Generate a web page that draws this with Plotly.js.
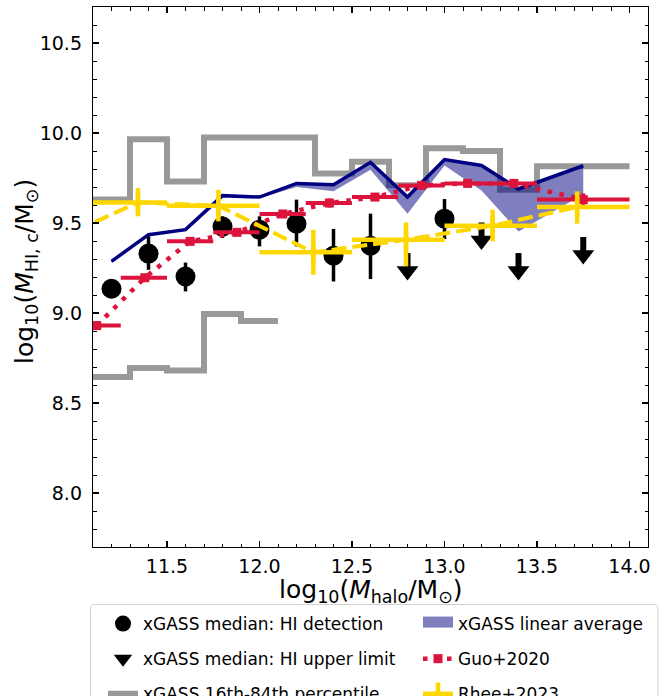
<!DOCTYPE html>
<html>
<head>
<meta charset="utf-8">
<script src="https://cdn.plot.ly/plotly-3.0.1.min.js"></script>
<style>html,body{margin:0;padding:0;background:#fff}</style>
</head>
<body>
<div id="chart" style="width:671px;height:696px"></div>
<script>
// xGASS medians with an HI detection: value and lower/upper uncertainty bounds
const detX  = [11.2, 11.4, 11.6, 11.8, 12.0, 12.2, 12.4, 12.6, 13.0];
const detY  = [9.135, 9.33, 9.203, 9.48, 9.463, 9.496, 9.318, 9.374, 9.524];
const detLo = [9.10, 9.24, 9.12, 9.417, 9.37, 9.37, 9.175, 9.189, 9.411];
const detHi = [9.17, 9.426, 9.28, 9.537, 9.537, 9.63, 9.467, 9.552, 9.633];

// xGASS medians that are HI upper limits
const limX = [12.8, 13.2, 13.4, 13.75];
const limY = [9.333, 9.503, 9.333, 9.422];

// 16th / 84th percentile stairs: bin edges and one value per bin
const p84Edges = [11.1, 11.3, 11.5, 11.7, 11.9, 12.1, 12.3, 12.5, 12.7, 12.9, 13.1, 13.3, 13.5, 14.0];
const p84Vals  = [9.63, 9.965, 9.73, 9.975, 9.975, 9.975, 9.775, 9.84, 9.71, 9.915, 9.90, 9.685, 9.815];
const p16Edges = [11.1, 11.3, 11.5, 11.7, 11.9, 12.1];
const p16Vals  = [8.645, 8.695, 8.68, 8.995, 8.955];

// xGASS linear average: band between lower and upper curves
const avgX  = [11.2, 11.4, 11.6, 11.8, 12.0, 12.2, 12.4, 12.6, 12.8, 13.0, 13.2, 13.4, 13.75];
const avgHi = [9.287, 9.435, 9.463, 9.652, 9.644, 9.72, 9.713, 9.837, 9.644, 9.852, 9.82, 9.689, 9.818];
const avgLo = [9.28, 9.43, 9.455, 9.645, 9.638, 9.70, 9.676, 9.796, 9.552, 9.82, 9.68, 9.453, 9.66];

// Guo+2020: bin centres, values, halo-mass bin edges
const guoX  = [11.12, 11.38, 11.625, 11.878, 12.126, 12.378, 12.624, 12.876, 13.125, 13.375, 13.75];
const guoY  = [8.93, 9.196, 9.398, 9.448, 9.55, 9.611, 9.644, 9.709, 9.72, 9.72, 9.63];
const guoLo = [11.0, 11.25, 11.5, 11.75, 12.0, 12.25, 12.5, 12.75, 13.0, 13.25, 13.5];
const guoHi = [11.25, 11.5, 11.75, 12.0, 12.25, 12.5, 12.75, 13.0, 13.25, 13.5, 14.0];
const guoYErr = [0.02, 0.02, 0.02, 0.02, 0.02, 0.025, 0.02, 0.02, 0.02, 0.02, 0.035];

// Rhee+2023: bin centres, values, bin edges and vertical uncertainty bounds
const rheeX   = [10.8, 11.343, 11.778, 12.291, 12.792, 13.26, 13.717];
const rheeY   = [9.36, 9.614, 9.596, 9.337, 9.407, 9.485, 9.589];
const rheeLo  = [10.5, 11.0, 11.5, 12.0, 12.5, 13.0, 13.5];
const rheeHi  = [11.0, 11.5, 12.0, 12.5, 13.0, 13.5, 14.0];
const rheeYLo = [9.26, 9.537, 9.509, 9.213, 9.259, 9.398, 9.496];
const rheeYHi = [9.46, 9.694, 9.685, 9.463, 9.503, 9.574, 9.676];

const FONT = 'DejaVu Sans, Verdana, sans-serif';
const W = 671, H = 696;
const M = {l: 93, r: 23, t: 7, b: 149, autoexpand: false};
const PW = W - M.l - M.r, PH = H - M.t - M.b;

// pixel position -> paper fraction
const PX = p => (p - M.l) / PW;
const PY = p => (H - M.b - p) / PH;

// stairs drawn with an 'hv' line: repeat the last value at the closing edge
const stairY = v => v.concat([v[v.length - 1]]);
const minus = (a, b) => a.map((v, i) => v - b[i]);

// arrow shaft length (data units) above the arrowhead marker
const ARROW = 0.1;

const BAND = '#7f7fbf';   // navy at 50% over white, for the legend patch

const traces = [
  {x: p84Edges, y: stairY(p84Vals), mode: 'lines', line: {color: '#999999', width: 6, shape: 'hv'},
   name: 'xGASS 16th-84th percentile', legend: 'legend', legendgroup: 'pct', legendrank: 3, hoverinfo: 'skip'},
  {x: p16Edges, y: stairY(p16Vals), mode: 'lines', line: {color: '#999999', width: 6, shape: 'hv'},
   showlegend: false, legendgroup: 'pct', hoverinfo: 'skip'},
  {x: avgX, y: avgLo, mode: 'lines', line: {width: 0, color: 'rgba(0,0,0,0)'}, showlegend: false, hoverinfo: 'skip'},
  {x: avgX, y: avgHi, mode: 'none', fill: 'tonexty', fillcolor: 'rgba(0,0,128,0.5)',
   showlegend: false, legendgroup: 'avg', hoverinfo: 'skip'},
  {x: avgX, y: avgHi, mode: 'lines', line: {color: '#000080', width: 3.5}, showlegend: false,
   legendgroup: 'avg', hoverinfo: 'skip'},
  // legend patch for the band
  {x: [null], y: [null], mode: 'lines', line: {color: BAND, width: 10}, fill: 'toself', fillcolor: BAND,
   name: 'xGASS linear average', legend: 'legend2', legendgroup: 'avg', legendrank: 1},
  {x: detX, y: detY, mode: 'markers', marker: {symbol: 'circle', size: 20, color: '#000000'},
   error_y: {type: 'data', symmetric: false, array: minus(detHi, detY), arrayminus: minus(detY, detLo),
             thickness: 3.5, width: 0, color: '#000000'},
   name: 'xGASS median: HI detection', legend: 'legend', legendgroup: 'det', legendrank: 1},
  {x: limX, y: limY.map(v => v - ARROW), mode: 'markers',
   marker: {symbol: 'triangle-down', size: 19, color: '#000000', line: {width: 0}},
   error_y: {type: 'data', symmetric: false, array: limX.map(() => ARROW), arrayminus: limX.map(() => 0),
             thickness: 6, width: 0, color: '#000000'},
   name: 'xGASS median: HI upper limit', legend: 'legend', legendgroup: 'lim', legendrank: 2},
  {x: guoX, y: guoY, mode: 'lines+markers',
   line: {color: '#dc143c', width: 4.5, dash: '4.5px,7.5px'},
   marker: {symbol: 'square', size: 9, color: '#dc143c'},
   error_x: {type: 'data', symmetric: false, array: minus(guoHi, guoX), arrayminus: minus(guoX, guoLo),
             thickness: 4, width: 0, color: '#dc143c'},
   error_y: {type: 'data', array: guoYErr, thickness: 4, width: 0, color: '#dc143c'},
   name: 'Guo+2020', legend: 'legend2', legendgroup: 'guo', legendrank: 2},
  {x: rheeX, y: rheeY, mode: 'lines+markers',
   line: {color: '#ffd700', width: 4, dash: '15px,6px'},
   marker: {symbol: 'line-ns-open', size: 14, color: '#ffd700', line: {color: '#ffd700', width: 4.5}},
   error_x: {type: 'data', symmetric: false, array: minus(rheeHi, rheeX), arrayminus: minus(rheeX, rheeLo),
             thickness: 4.5, width: 0, color: '#ffd700'},
   error_y: {type: 'data', symmetric: false, array: minus(rheeYHi, rheeY), arrayminus: minus(rheeY, rheeYLo),
             thickness: 4.5, width: 0, color: '#ffd700'},
   showlegend: false, legendgroup: 'rhee'},
  // legend key for Rhee+2023: solid bar with a vertical tick, as an errorbar glyph
  {x: [null], y: [null], mode: 'lines+markers', line: {color: '#ffd700', width: 4.5},
   marker: {symbol: 'line-ns-open', size: 16, color: '#ffd700', line: {color: '#ffd700', width: 4.5}},
   name: 'Rhee+2023', legend: 'legend2', legendgroup: 'rhee', legendrank: 3}
];

// rounded frame around both legend columns, given in pixels and mapped to paper units
function roundBox(x0, y0, x1, y1, r) {
  const X = p => PX(p).toFixed(5);
  const Y = p => PY(p).toFixed(5);
  return `M${X(x0 + r)},${Y(y0)} L${X(x1 - r)},${Y(y0)} Q${X(x1)},${Y(y0)} ${X(x1)},${Y(y0 + r)} ` +
         `L${X(x1)},${Y(y1 - r)} Q${X(x1)},${Y(y1)} ${X(x1 - r)},${Y(y1)} ` +
         `L${X(x0 + r)},${Y(y1)} Q${X(x0)},${Y(y1)} ${X(x0)},${Y(y1 - r)} ` +
         `L${X(x0)},${Y(y0 + r)} Q${X(x0)},${Y(y0)} ${X(x0 + r)},${Y(y0)} Z`;
}

const axisCommon = {
  showgrid: false, zeroline: false, showline: true, linecolor: '#000000', linewidth: 1.2,
  mirror: 'ticks', ticks: 'inside', ticklen: 6, tickwidth: 1.2, tickcolor: '#000000',
  tickfont: {family: FONT, size: 19, color: '#000000'}, tickformat: '.1f', dtick: 0.5,
  minor: {dtick: 0.1, ticks: 'inside', ticklen: 3.5, tickwidth: 1, tickcolor: '#000000'},
  automargin: false
};

const legendCommon = {
  xref: 'container', yref: 'container', xanchor: 'left', yanchor: 'top',
  orientation: 'v', font: {family: FONT, size: 17, color: '#000000'},
  bgcolor: 'rgba(0,0,0,0)', borderwidth: 0, traceorder: 'grouped', tracegroupgap: 10,
  itemclick: false, itemdoubleclick: false
};

const TITLE_FONT = {family: FONT, size: 25, color: '#000000'};

const layout = {
  width: W, height: H, margin: M,
  paper_bgcolor: '#ffffff', plot_bgcolor: '#ffffff',
  font: {family: FONT, color: '#000000'},
  xaxis: Object.assign({}, axisCommon, {range: [11.1, 14.1], tick0: 11.5, ticklabelstandoff: 2}),
  yaxis: Object.assign({}, axisCommon, {range: [7.7, 10.7], tick0: 8.0, ticklabelstandoff: 6}),
  showlegend: true,
  legend: Object.assign({}, legendCommon, {x: 103 / W, y: 1 - 606 / H}),
  legend2: Object.assign({}, legendCommon, {x: 418 / W, y: 1 - 606 / H}),
  annotations: [
    {xref: 'paper', yref: 'paper', x: 0.5, y: PY(591), xanchor: 'center', yanchor: 'middle', showarrow: false,
     text: 'log<sub>10</sub>(<i>M</i><sub>halo</sub>/M<sub>⊙</sub>)', font: TITLE_FONT},
    {xref: 'paper', yref: 'paper', x: PX(26), y: PY(272), xanchor: 'center', yanchor: 'middle', showarrow: false,
     textangle: -90, text: 'log<sub>10</sub>(<i>M</i><sub>HI, c</sub>/M<sub>⊙</sub>)', font: TITLE_FONT}
  ],
  shapes: [{type: 'path', xref: 'paper', yref: 'paper', path: roundBox(90.5, 604.5, 658, 720, 4),
            line: {color: '#d0d0d0', width: 1}, fillcolor: 'rgba(0,0,0,0)'}]
};

Plotly.newPlot('chart', traces, layout, {displayModeBar: false, staticPlot: true});
</script>
</body>
</html>
